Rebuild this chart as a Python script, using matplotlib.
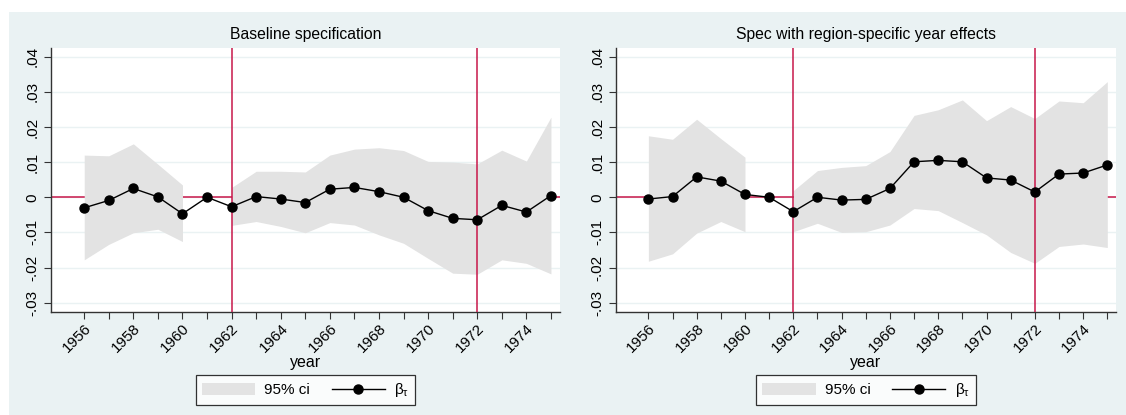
import numpy as np
import matplotlib
matplotlib.use("Agg")
import matplotlib.pyplot as plt
from matplotlib.patches import Rectangle, Patch
from matplotlib.lines import Line2D

plt.rcParams['font.family'] = ['Liberation Sans', 'DejaVu Sans']

# --- Data ---
years = np.arange(1956, 1976)
tick_years = np.arange(1956, 1976, 2)
ref_year = 1961
vlines = [1962, 1972]

base_beta = [-0.0030, -0.0009, 0.0025, 0.0001, -0.0047, 0.0000, -0.0027, 0.0002, -0.0005, -0.0015,
             0.0023, 0.0028, 0.0016, 0.0000, -0.0038, -0.0060, -0.0064, -0.0023, -0.0042, 0.0005]
base_hi = [0.0120, 0.0118, 0.0152, 0.0094, 0.0035, np.nan, 0.0028, 0.0074, 0.0074, 0.0072,
           0.0120, 0.0137, 0.0141, 0.0133, 0.0102, 0.0100, 0.0095, 0.0134, 0.0103, 0.0228]
base_lo = [-0.0178, -0.0134, -0.0101, -0.0091, -0.0126, np.nan, -0.0080, -0.0069, -0.0083, -0.0101,
           -0.0072, -0.0079, -0.0107, -0.0131, -0.0174, -0.0216, -0.0219, -0.0178, -0.0188, -0.0218]

reg_beta = [-0.0005, 0.0002, 0.0058, 0.0046, 0.0008, 0.0000, -0.0041, 0.0000, -0.0008, -0.0006,
            0.0025, 0.0101, 0.0105, 0.0101, 0.0055, 0.0049, 0.0015, 0.0066, 0.0069, 0.0092]
reg_hi = [0.0175, 0.0165, 0.0222, 0.0167, 0.0114, np.nan, 0.0019, 0.0076, 0.0085, 0.0090,
          0.0130, 0.0233, 0.0249, 0.0277, 0.0218, 0.0258, 0.0224, 0.0274, 0.0269, 0.0329]
reg_lo = [-0.0182, -0.0161, -0.0102, -0.0069, -0.0098, np.nan, -0.0098, -0.0074, -0.0100, -0.0098,
          -0.0079, -0.0032, -0.0038, -0.0072, -0.0107, -0.0157, -0.0188, -0.0140, -0.0133, -0.0143]

titles = ["Baseline specification", "Spec with region-specific year effects"]
yticks = [-0.03, -0.02, -0.01, 0, 0.01, 0.02, 0.03, 0.04]
ytick_labels = ["-.03", "-.02", "-.01", "0", ".01", ".02", ".03", ".04"]

bg = "#EAF2F3"
ci_col = "#E3E3E3"
red = "#C8174A"

fig = plt.figure(figsize=(11.26, 4.15), dpi=100, facecolor="white")
fig.patches.append(Rectangle((9 / 1126, 0), 1, 403 / 415, transform=fig.transFigure,
                             facecolor=bg, edgecolor="none", zorder=-10))

panels = [
    (51.3, 559.8, base_beta, base_hi, base_lo),
    (616.0, 1116.0, reg_beta, reg_hi, reg_lo),
]

for i, (x0, x1, beta, hi, lo) in enumerate(panels):
    ax = fig.add_axes([x0 / 1126, (415 - 311.7) / 415, (x1 - x0) / 1126, (311.7 - 47.7) / 415])
    ax.set_facecolor("white")
    hi = np.array(hi)
    lo = np.array(lo)
    pre = years < ref_year
    post = years > ref_year
    ax.fill_between(years[pre], lo[pre], hi[pre], color=ci_col, lw=0, zorder=2)
    ax.fill_between(years[post], lo[post], hi[post], color=ci_col, lw=0, zorder=2)
    ax.axhline(0, color=red, lw=1.1, zorder=1)
    for v in vlines:
        ax.axvline(v, color=red, lw=1.1, zorder=3)
    ax.plot(years, beta, color="black", lw=1.0, marker="o", ms=6.5, zorder=4)

    for y in yticks:
        ax.axhline(y, color=bg, lw=1.0, zorder=0)

    ax.set_xlim(1954.66, 1975.36)
    ax.set_ylim(-0.03256, 0.04256)
    ax.set_yticks(yticks)
    ax.set_yticklabels(ytick_labels, rotation=90, va="center", fontsize=11)
    ax.set_xticks(years, minor=True)
    ax.set_xticks(tick_years)
    ax.set_xticklabels([str(y) for y in tick_years], rotation=45, ha="right",
                       rotation_mode="anchor", fontsize=11)
    ax.tick_params(axis="both", which="both", length=5, width=0.8, color="#333333")
    ax.tick_params(axis="x", which="major", pad=2)
    for s in ["top", "right"]:
        ax.spines[s].set_visible(False)
    for s in ["left", "bottom"]:
        ax.spines[s].set_color("#333333")
        ax.spines[s].set_linewidth(1.0)
    ax.set_title(titles[i], fontsize=11.3, pad=6)
    ax.set_xlabel("year", fontsize=11.5, labelpad=0)

    handles = [Patch(facecolor=ci_col, edgecolor="none"),
               Line2D([], [], color="black", lw=1.0, marker="o", ms=6.5)]
    leg = ax.legend(handles, ["95% ci", r"$\mathregular{\beta_\tau}$"], ncol=2, loc="center",
                    bbox_to_anchor=(0.5, -0.297), fontsize=11, frameon=True,
                    fancybox=False, edgecolor="black", handlelength=3.5,
                    handleheight=0.8, columnspacing=1.4, borderpad=0.4,
                    handletextpad=0.6, borderaxespad=0)
    leg.get_frame().set_linewidth(0.9)

fig.savefig("out.png", dpi=100, facecolor="white")
